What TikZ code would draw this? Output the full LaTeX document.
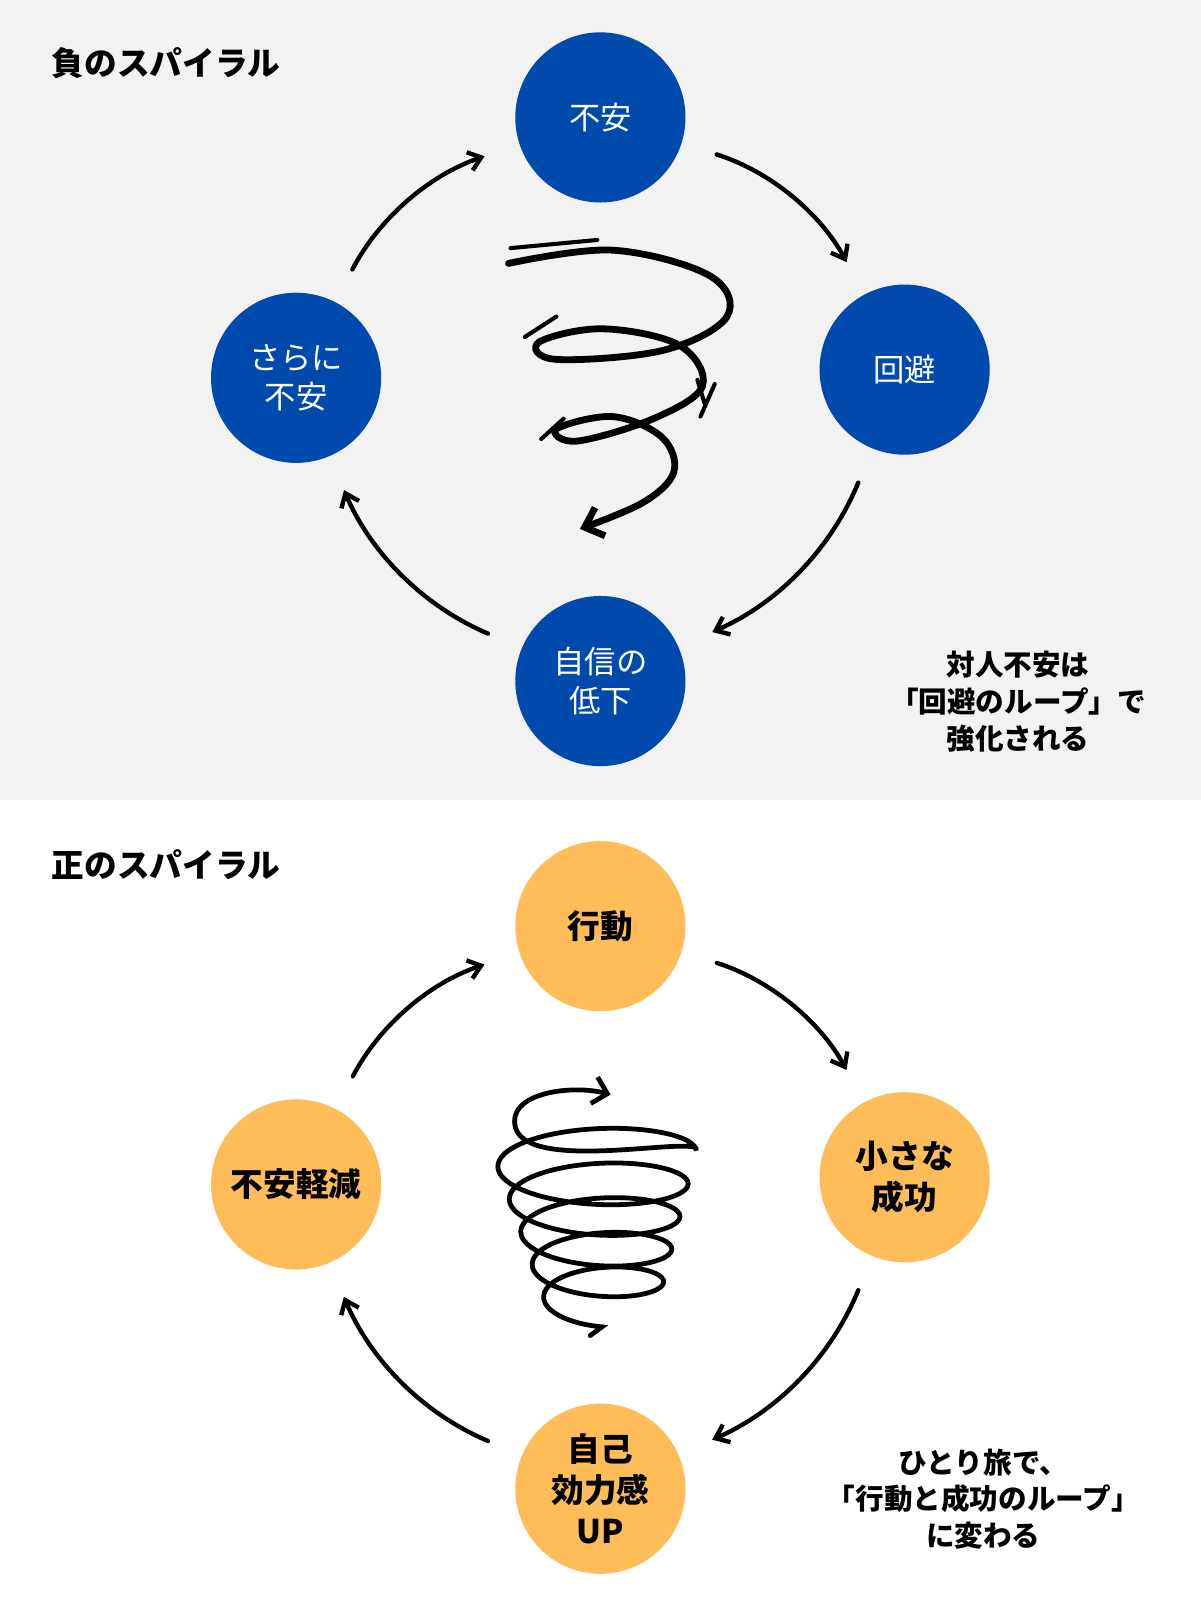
\documentclass[tikz,border=0pt]{standalone}
\usepackage{fontspec}
\setmainfont{Noto Sans CJK JP}
\usetikzlibrary{arrows.meta,positioning}
\definecolor{panelgray}{HTML}{F2F2F2}
\definecolor{deepblue}{HTML}{004AAD}
\definecolor{softorange}{HTML}{FFBD59}
\tikzset{%
	bad/.style    = {circle, fill=deepblue, minimum size=125pt, text=white, font=\fontsize{23}{29}\selectfont, align=center}, % negative loop
	good/.style   = {circle, fill=softorange, minimum size=125pt, font=\bfseries\fontsize{24}{30}\selectfont, align=center}, % positive loop
	cyc/.style    = {-{Straight Barb[length=9pt,width=14pt]}, line width=3.2pt, line cap=round, shorten <=27pt, shorten >=27pt},
	title/.style  = {anchor=west, font=\bfseries\fontsize{24}{28}\selectfont},
	note/.style   = {align=center, font=\bfseries\fontsize{21}{27}\selectfont},
}
\begin{document}
\begin{tikzpicture}[x=0.75pt, y=-0.75pt]
	\useasboundingbox (0,0) rectangle (1176,1567);
	\fill[panelgray] (0,0) rectangle (1176,783);
	% negative spiral
	\node[title] (negtitle) at (46,62) {負のスパイラル};
	\node[bad] (fear) at (588,115) {不安};
	\node[bad] (avoid) at (886,362) {回避};
	\node[bad] (lowconf) at (588,667) {自信の\\低下};
	\node[bad] (morefear) at (290,370) {さらに\\不安};
	\draw[cyc] (fear) to[bend left=22] (avoid);
	\draw[cyc] (avoid) to[bend left=22] (lowconf);
	\draw[cyc] (lowconf) to[bend left=22] (morefear);
	\draw[cyc] (morefear) to[bend left=22] (fear);
	\draw[line width=5pt, line cap=round, -{Straight Barb[length=12pt,width=22pt]}] plot[smooth, tension=0.6] coordinates {(498,258) (600,245) (695,270) (712,310) (650,343) (545,352) (528,335) (590,322) (665,338) (688,378) (640,410) (565,432) (545,420) (600,408) (648,428) (660,462) (630,492) (568,518)};
	\draw[line width=3pt, line cap=round] (500,243) -- (585,235) (514,330) -- (545,310) (530,430) -- (552,410) (683,372) -- (690,395) (700,376) -- (686,408);
	\node[note] (negnote) at (997,687) {対人不安は\\「回避のループ」で\\強化される};
	% positive spiral
	\node[title] (postitle) at (46,847) {正のスパイラル};
	\node[good] (act) at (588,907) {行動};
	\node[good] (success) at (886,1153) {小さな\\成功};
	\node[good] (efficacy) at (588,1458) {自己\\効力感\\UP};
	\node[good] (relief) at (290,1160) {不安軽減};
	\draw[cyc] (act) to[bend left=22] (success);
	\draw[cyc] (success) to[bend left=22] (efficacy);
	\draw[cyc] (efficacy) to[bend left=22] (relief);
	\draw[cyc] (relief) to[bend left=22] (act);
	\draw[line width=3.5pt, line cap=round, -{Straight Barb[length=10pt,width=20pt]}] (578,1308) -- plot[smooth, domain=90:1800, samples=220] ({590-8*(\x/1800)+(52+48*(\x/1800))*cos(\x)}, {1287-160*(\x/1800)+(20+10*(\x/1800))*sin(\x)}) .. controls (690,1110) and (520,1150) .. (505,1105) .. controls (495,1070) and (560,1062) .. (598,1072);
	\node[note] (posnote) at (963,1468) {ひとり旅で、\\「行動と成功のループ」\\に変わる};
\end{tikzpicture}
\end{document}
